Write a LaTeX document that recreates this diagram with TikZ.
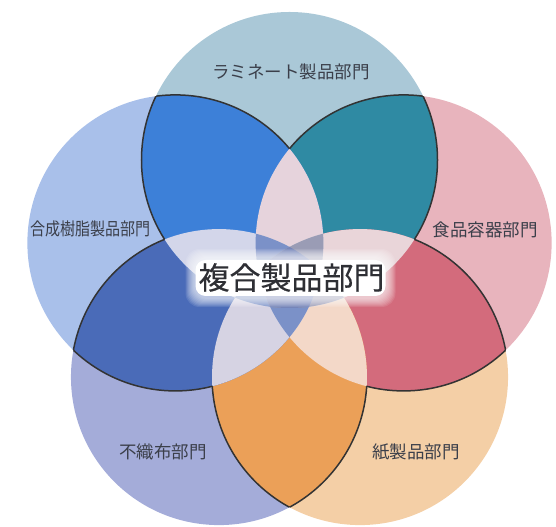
\documentclass[tikz,border=0pt]{standalone}
\usepackage{fontspec}
\newfontfamily\cjk{Noto Sans CJK JP}
\newfontfamily\cjkhub[FakeBold=0.35]{Noto Sans CJK JP}

% single circles
\definecolor{lamiLight}{HTML}{AAC8D7}
\definecolor{foodLight}{HTML}{E8B4BD}
\definecolor{paperLight}{HTML}{F4CFA6}
\definecolor{nonLight}{HTML}{A4ACD9}
\definecolor{resinLight}{HTML}{A9C0EA}
% two neighbouring circles
\definecolor{lamiFood}{HTML}{2F8AA3}
\definecolor{foodPaper}{HTML}{D36B7C}
\definecolor{paperNon}{HTML}{EBA058}
\definecolor{nonResin}{HTML}{4A6BB8}
\definecolor{resinLami}{HTML}{3D80D8}
% three circles
\definecolor{paleTop}{HTML}{E6D3DC}
\definecolor{paleRight}{HTML}{E9D5D9}
\definecolor{paleLowR}{HTML}{F3D8C8}
\definecolor{paleLowL}{HTML}{D6D3E3}
\definecolor{paleLeft}{HTML}{D3D6EA}
% four and five circles
\definecolor{quadBlue}{HTML}{7B91C8}
\definecolor{quadGrey}{HTML}{9A9CB5}
\definecolor{coreBlue}{HTML}{7585B9}
\definecolor{labelgray}{HTML}{3B3F4A}
\definecolor{hubgray}{HTML}{2E2F34}

\def\rad{148bp}
\def\dist{120bp}

\begin{document}
\begin{tikzpicture}[x=1bp,y=1bp]
    \tikzstyle{outline}=[draw=black!80, line width=1.5bp]
    \tikzstyle{unit label}=[font=\cjk\fontsize{17.5bp}{20bp}\selectfont, text=labelgray, inner sep=0pt]
    \tikzstyle{core label}=[font=\cjkhub\fontsize{31bp}{36bp}\selectfont, text=hubgray, inner sep=0pt]

    \useasboundingbox (-289.5,-247) rectangle (266.5,280);

    % Circle centres, clockwise from the top
    \foreach \i in {1,...,5}
        \coordinate (C-\i) at ({90-72*(\i-1)}:\dist);

    % Draw the single circles
    \foreach \i/\col in {1/lamiLight,2/foodLight,3/paperLight,4/nonLight,5/resinLight}
        \fill[\col] (C-\i) circle (\rad);

    % Dark lens of two neighbouring circles
    \foreach \i/\col in {1/lamiFood,2/foodPaper,3/paperNon,4/nonResin,5/resinLami} {
        \pgfmathtruncatemacro\j{mod(\i,5)+1}
        \begin{scope}
            \clip (C-\i) circle (\rad);
            \fill[\col] (C-\j) circle (\rad);
        \end{scope}
    }

    % Pale lens of the two circles either side of circle i
    \foreach \i/\col in {1/paleTop,2/paleRight,3/paleLowR,4/paleLowL,5/paleLeft} {
        \pgfmathtruncatemacro\p{mod(\i+3,5)+1}
        \pgfmathtruncatemacro\n{mod(\i,5)+1}
        \begin{scope}
            \clip (C-\p) circle (\rad);
            \fill[\col] (C-\n) circle (\rad);
        \end{scope}
    }

    % Four circles: all except circle i
    \foreach \i/\col in {1/quadBlue,2/quadBlue,3/quadBlue,4/quadGrey,5/quadGrey} {
        \pgfmathtruncatemacro\ka{mod(\i,5)+1}
        \pgfmathtruncatemacro\kb{mod(\i+1,5)+1}
        \pgfmathtruncatemacro\kc{mod(\i+2,5)+1}
        \pgfmathtruncatemacro\kd{mod(\i+3,5)+1}
        \begin{scope}
            \clip (C-\ka) circle (\rad);
            \clip (C-\kb) circle (\rad);
            \clip (C-\kc) circle (\rad);
            \fill[\col] (C-\kd) circle (\rad);
        \end{scope}
    }

    % All five circles
    \begin{scope}
        \clip (C-1) circle (\rad);
        \clip (C-2) circle (\rad);
        \clip (C-3) circle (\rad);
        \clip (C-4) circle (\rad);
        \fill[coreBlue] (C-5) circle (\rad);
    \end{scope}

    % Outline the dark lenses where they meet a single circle
    \foreach \i in {1,...,5} {
        \pgfmathtruncatemacro\j{mod(\i,5)+1}
        \pgfmathtruncatemacro\ka{mod(\i+1,5)+1}
        \pgfmathtruncatemacro\kb{mod(\i+2,5)+1}
        \pgfmathtruncatemacro\kc{mod(\i+3,5)+1}
        \foreach \a/\b in {\i/\j,\j/\i} {
            \begin{scope}[even odd rule]
                \clip (C-\b) circle (\rad);
                \clip (-300,-260) rectangle (280,290) (C-\ka) circle (\rad);
                \clip (-300,-260) rectangle (280,290) (C-\kb) circle (\rad);
                \clip (-300,-260) rectangle (280,290) (C-\kc) circle (\rad);
                \draw[outline] (C-\a) circle (\rad);
            \end{scope}
        }
    }

    % Soft white glow under the centre label
    \foreach \g in {1,...,9}
        \fill[white, opacity=0.11, rounded corners=14bp] (-95-\g,-18-\g) rectangle (97+\g,22+\g);
    \fill[white, rounded corners=10bp] (-94,-16) rectangle (96,20);

    % Labels
    \node[unit label] (lami) at (1.5,208) {ラミネート製品部門};
    \node[unit label, xscale=0.86, transform shape] (resin) at (-199,51) {合成樹脂製品部門};
    \node[unit label] (food) at (195.5,50.5) {食品容器部門};
    \node[unit label] (nonwoven) at (-126.5,-172) {不織布部門};
    \node[unit label] (paper) at (126.5,-172) {紙製品部門};
    \node[core label] (hub) at (2,2.5) {複合製品部門};
\end{tikzpicture}
\end{document}
